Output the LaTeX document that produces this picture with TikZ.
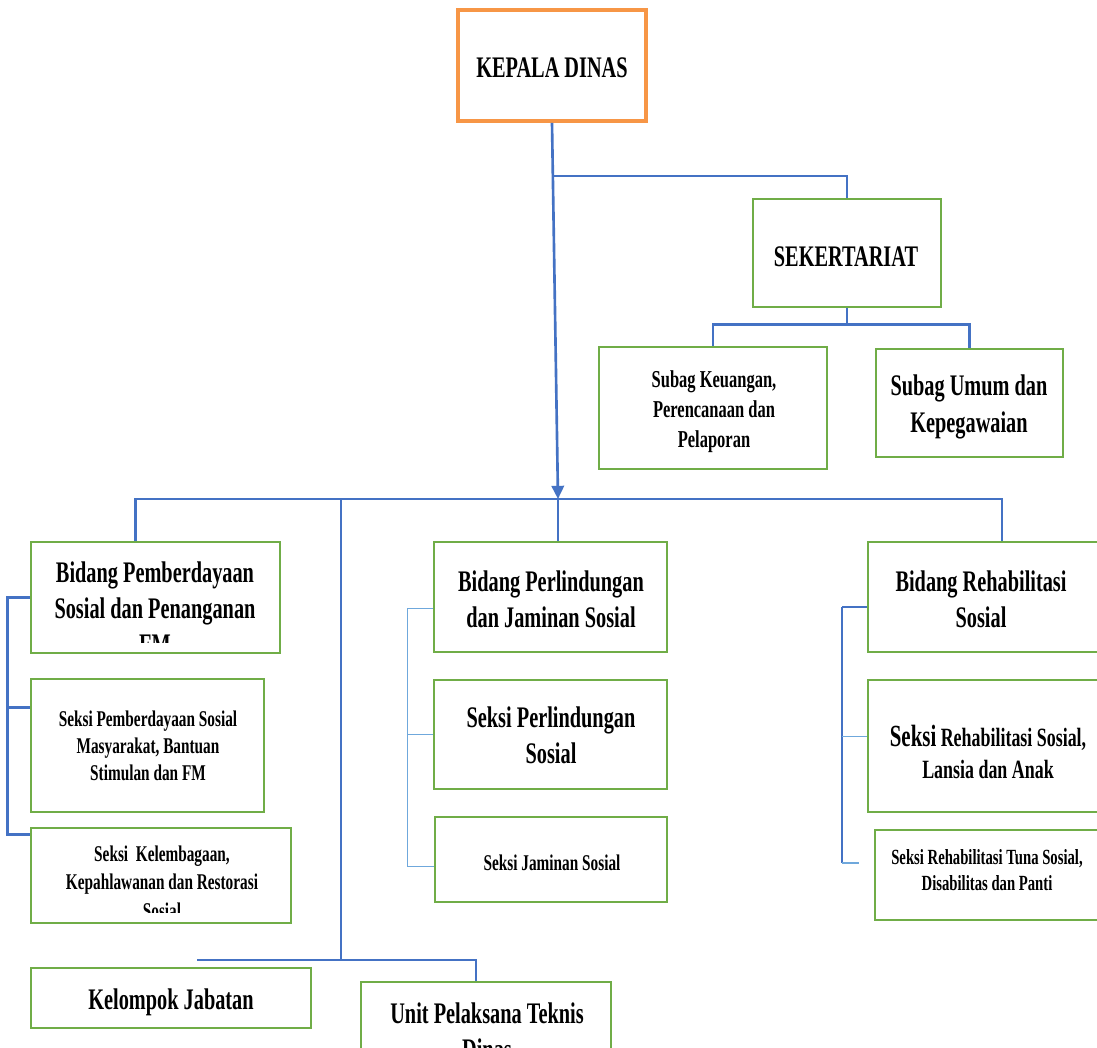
\documentclass[tikz,border=0pt]{standalone}
\usepackage{fontspec}
\setmainfont{Liberation Serif}[FakeStretch=0.68]
\usetikzlibrary{fit,calc,arrows.meta}
\definecolor{gr}{HTML}{70AD47}
\definecolor{orng}{HTML}{F79646}
\definecolor{bl}{HTML}{4472C4}
\definecolor{lbl}{HTML}{6FA8DC}
\begin{document}
\begin{tikzpicture}[x=0.02cm,y=-0.02cm,
  gbox/.style={draw=gr, line width=1.4pt, inner sep=0pt},
  obox/.style={draw=orng, line width=2.2pt, inner sep=0pt},
  conn/.style={draw=bl, line width=1.5pt},
  thinc/.style={draw=lbl, line width=0.8pt},
  txt/.style={align=center, inner sep=0pt, font=\bfseries\fontsize{17}{20.7}\selectfont},
  txm/.style={align=center, inner sep=0pt, font=\bfseries\fontsize{12.8}{15.5}\selectfont},
]
\fill[white] (0,0) rectangle (1097,1047);
\useasboundingbox (0,0) rectangle (1097,1047);
\clip (0,0) rectangle (1097,1047);

% boxes
\node[obox, fit={(458,10) (646,121)}] (kd) {};
\node[gbox, fit={(753,199) (941,307)}] (sek) {};
\node[gbox, fit={(599,347) (827,469)}] (sk1) {};
\node[gbox, fit={(876,349) (1063,457)}] (sk2) {};
\node[gbox, fit={(31,542) (280,653)}] (b1) {};
\node[gbox, fit={(31,679) (264,812)}] (s11) {};
\node[gbox, fit={(31,828) (291,923)}] (s12) {};
\node[gbox, fit={(434,542) (667,652)}] (b2) {};
\node[gbox, fit={(434,680) (667,789)}] (s21) {};
\node[gbox, fit={(435,817) (667,902)}] (s22) {};
\node[gbox, fit={(868,542) (1136,652)}] (b3) {};
\node[gbox, fit={(868,680) (1136,812)}] (s31) {};
\node[gbox, fit={(875,830) (1136,920)}] (s32) {};
\node[gbox, fit={(31,968) (311,1028)}] (kj) {};
\node[gbox, fit={(361,982) (611,1110)}] (up) {};

% texts
\node[txt] (tkd) at (552,68) {KEPALA DINAS};
\node[txt] (tsek) at (846,257) {SEKERTARIAT};
\node[txm, font=\bfseries\fontsize{13.8}{17}\selectfont] (tsk1) at (714,412) {Subag Keuangan,\\Perencanaan dan\\Pelaporan};
\node[txt] (tsk2) at (969,407) {Subag Umum dan\\Kepegawaian};
\begin{scope}
  \clip (31,542) rectangle (280,642);
  \node[txt] (tb1) at (155,608) {Bidang Pemberdayaan\\Sosial dan Penanganan\\FM};
\end{scope}
\node[txm, font=\bfseries\fontsize{12.8}{15.3}\selectfont] (ts11) at (148,746) {Seksi Pemberdayaan Sosial\\Masyarakat, Bantuan\\Stimulan dan FM};
\begin{scope}
  \clip (31,828) rectangle (291,912);
  \node[txm, font=\bfseries\fontsize{12.8}{16.2}\selectfont] (ts12) at (162,882) {Seksi~ Kelembagaan,\\Kepahlawanan dan Restorasi\\Sosial};
\end{scope}
\node[txt] (tb2) at (551,599) {Bidang Perlindungan\\dan Jaminan Sosial};
\node[txt] (ts21) at (551,735) {Seksi Perlindungan\\Sosial};
\node[txm] (ts22) at (552,863) {Seksi Jaminan Sosial};
\node[txt] (tb3) at (981,599) {Bidang Rehabilitasi\\Sosial};
\node[txm, font=\bfseries\fontsize{15}{18.7}\selectfont] (ts31) at (988,752) {{\fontsize{17.5}{18.7}\selectfont Seksi} Rehabilitasi Sosial,\\Lansia dan Anak};
\node[txm, font=\bfseries\fontsize{12.3}{14.7}\selectfont] (ts32) at (987,870) {Seksi Rehabilitasi Tuna Sosial,\\Disabilitas dan Panti};
\node[txt] (tkj) at (171,1002) {Kelompok Jabatan};
\node[txt] (tup) at (487,1031) {Unit Pelaksana Teknis\\Dinas};

% connectors
\coordinate (hub) at (558,499);
\draw[conn, -{Triangle[width=7pt,length=7.5pt]}] (kd.south) -- (hub);
\coordinate (j1) at (553,176);
\draw[conn] (j1) -| (sek.north);
\draw[conn] (sek.south) -- ++(0,16) coordinate (j5);
\draw[conn] (sk1.north) |- (j5) -| (sk2.north);

\coordinate (b1top) at ($(b1.north west)!0.42!(b1.north east)$);
\draw[conn] (b1top) |- (hub) -| (b3.north);
\draw[conn] (hub) -- (hub |- b2.north);

\coordinate (j2) at (341,499);
\coordinate (j3) at (341,960);
\draw[conn] (j2) -- (j3);
\coordinate (j4) at (197,960);
\coordinate (uptop) at ($(up.north west)!0.46!(up.north east)$);
\draw[conn] (j4) -| (uptop);

% left bracket
\coordinate (s11p) at ($(s11.north west)!0.22!(s11.south west)$);
\coordinate (s12p) at ($(s12.north west)!0.08!(s12.south west)$);
\draw[conn] (b1.west) -- ++(-22,0) |- (s12p);
\draw[conn] (s11p) -- ++(-22,0);

% middle bracket
\coordinate (b2p) at ($(b2.north west)!0.6!(b2.south west)$);
\coordinate (s22p) at ($(s22.north west)!0.58!(s22.south west)$);
\draw[thinc] (b2p) -- ++(-25,0) |- (s22p);
\draw[thinc] (s21.west) -- ++(-25,0);

% right bracket
\coordinate (b3p) at ($(b3.north west)!0.59!(b3.south west)$);
\coordinate (s31p) at ($(s31.north west)!0.43!(s31.south west)$);
\coordinate (s32p) at ($(s32.north west)!0.37!(s32.south west)$);
\draw[conn] (b3p) -- ++(-25,0) coordinate (R1);
\draw[draw=bl, line width=1pt] (R1) -- (R1 |- s32p);
\draw[thinc] (R1 |- s31p) -- (s31p);
\draw[thinc, shorten >=0.3cm] (R1 |- s32p) -- (s32p);
\end{tikzpicture}
\end{document}
